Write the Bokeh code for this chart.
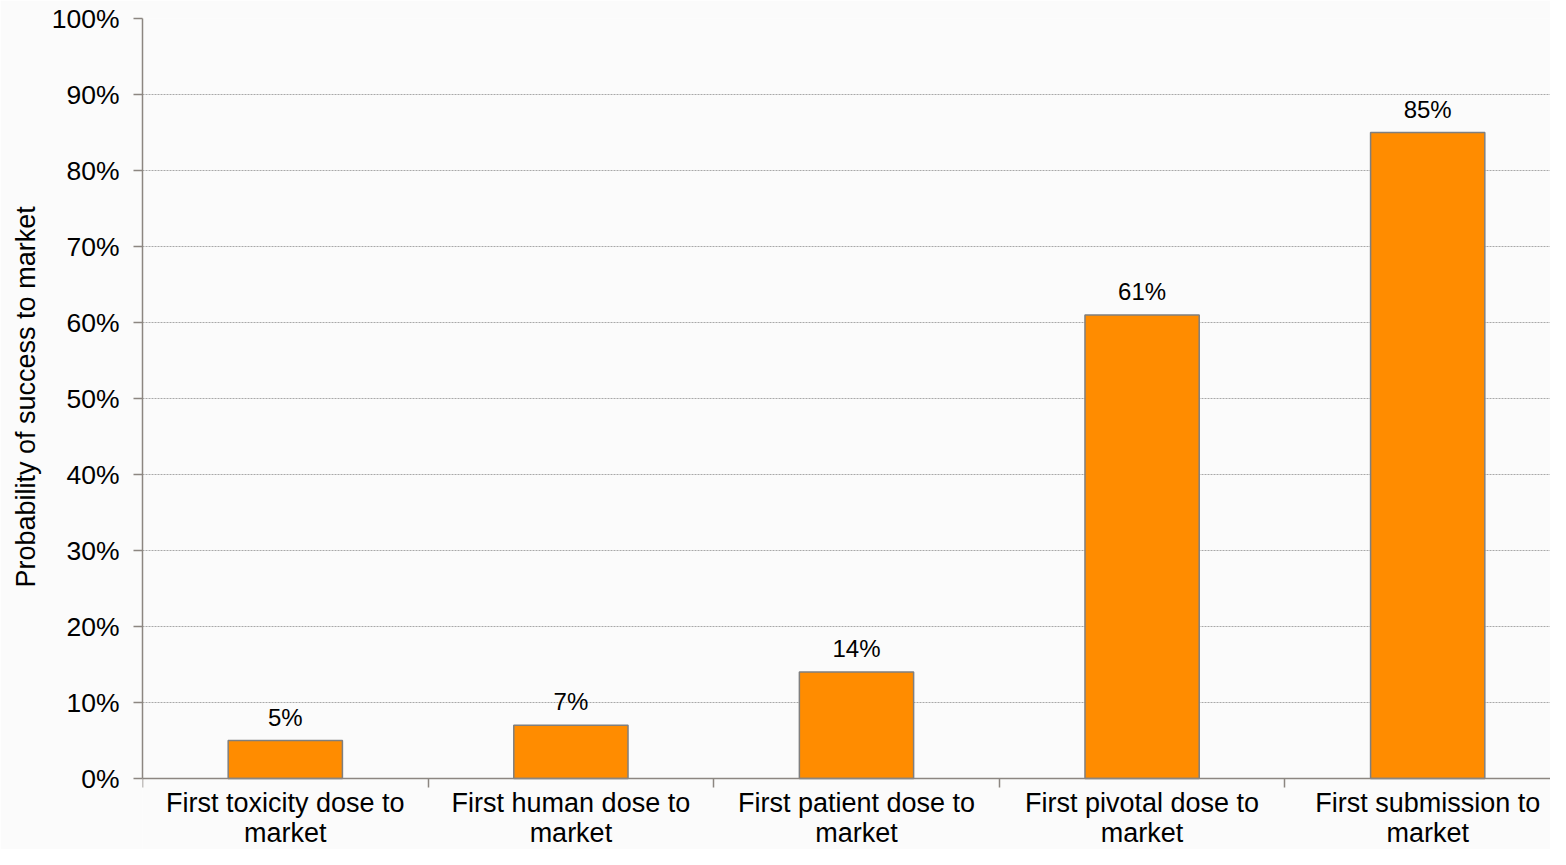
from bokeh.plotting import figure
from bokeh.models import ColumnDataSource, Range1d, FixedTicker, LabelSet, Title
from bokeh.core.properties import value
from bokeh.embed import file_html
from bokeh.resources import INLINE

categories = [
    "First toxicity dose to\nmarket",
    "First human dose to\nmarket",
    "First patient dose to\nmarket",
    "First pivotal dose to\nmarket",
    "First submission to\nmarket",
]
values = [5, 7, 14, 61, 85]
value_labels = ["5%", "7%", "14%", "61%", "85%"]
y_ticks = [0, 10, 20, 30, 40, 50, 60, 70, 80, 90, 100]
y_tick_labels = ["0%", "10%", "20%", "30%", "40%", "50%", "60%", "70%", "80%", "90%", "100%"]
y_title = "Probability of success to market"

centers = [i + 0.5 for i in range(len(categories))]
bounds = [i for i in range(len(categories) + 1)]

src = ColumnDataSource(dict(x=centers, top=values, label=value_labels))

FONT = "Liberation Sans"
BG = "#fbfbfb"
AXIS = "#8c8681"

p = figure(width=1550, height=849, output_backend="svg", toolbar_location=None,
           x_range=Range1d(0, 4.930), y_range=Range1d(-9.342, 100),
           min_border_left=142, min_border_top=18, min_border_bottom=0,
           min_border_right=0)
p.background_fill_color = BG
p.border_fill_color = BG
p.outline_line_color = None

p.vbar(x="x", top="top", bottom=0, width=0.40, source=src,
       fill_color="#FF8C00", line_color="#7f7f7f", line_width=1.5)

labels = LabelSet(x="x", y="top", text="label", source=src, text_align="center",
                  text_baseline="bottom", y_offset=10, text_font=value(FONT),
                  text_font_size="24px", text_color="#000000")
p.add_layout(labels)

# x axis (sits at y = 0)
xa = p.xaxis[0]
xa.fixed_location = 0
xa.ticker = FixedTicker(ticks=centers, minor_ticks=bounds)
xa.major_label_overrides = {c: lab for c, lab in zip(centers, categories)}
xa.major_tick_line_color = None
xa.major_tick_out = 0
xa.major_tick_in = 0
xa.minor_tick_line_color = AXIS
xa.minor_tick_line_width = 1.5
xa.minor_tick_out = 9
xa.minor_tick_in = 0
xa.axis_line_color = AXIS
xa.axis_line_width = 1.5
xa.major_label_text_font = FONT
xa.major_label_text_font_size = "27px"
xa.major_label_text_line_height = 1.0
xa.major_label_text_color = "#000000"
xa.major_label_standoff = 0
p.xgrid.grid_line_color = None

# y axis
ya = p.yaxis[0]
ya.bounds = (0, 100)
ya.ticker = FixedTicker(ticks=y_ticks)
ya.major_label_overrides = {t: lab for t, lab in zip(y_ticks, y_tick_labels)}
ya.major_label_text_font = FONT
ya.major_label_text_font_size = "26.5px"
ya.major_label_text_color = "#000000"
ya.major_label_standoff = 14
ya.major_tick_out = 9
ya.major_tick_in = 0
ya.major_tick_line_color = AXIS
ya.major_tick_line_width = 1.5
ya.minor_tick_line_color = None
ya.axis_line_color = AXIS
ya.axis_line_width = 1.5

# y axis title, centred on the 0-100 span
t = Title(text=y_title, align="left", offset=262, standoff=15,
          text_font=FONT, text_font_size="27px", text_font_style="normal",
          text_color="#000000")
p.add_layout(t, "left")

p.ygrid.ticker = FixedTicker(ticks=y_ticks)
p.ygrid.grid_line_color = "#a8a8a8"
p.ygrid.grid_line_dash = "2 1"
p.ygrid.grid_line_width = 1

open("out.html", "w").write(file_html(p, INLINE))
